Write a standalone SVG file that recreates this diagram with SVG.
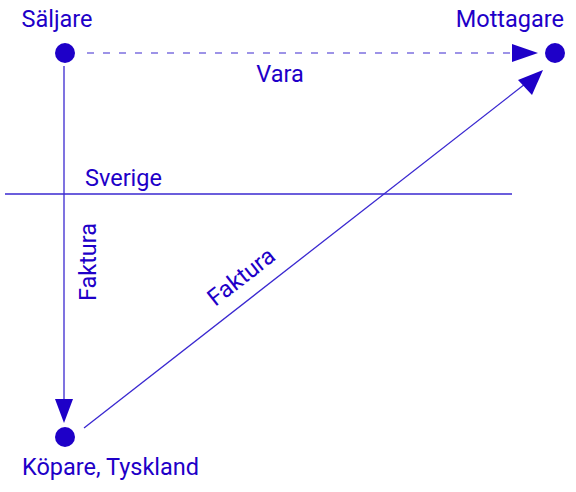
<svg xmlns="http://www.w3.org/2000/svg" width="576" height="492" viewBox="0 0 576 492">
<style>
text{font-family:Roboto,"Liberation Sans",sans-serif;font-size:23.5px;fill:#1e00c8}
.dot{fill:#1e00c8}
.ln{stroke:#3a28d0;stroke-width:1.3;fill:none}
.ah{fill:#1e00c8}
</style>
<rect width="576" height="492" fill="#fff"/>
<g id="connectors">
<line x1="87" y1="53" x2="515" y2="53" stroke="#7d70e0" stroke-width="1.6" stroke-dasharray="7,9"/>
<polygon class="ah" points="538,53 512,44 512,62"/>
<line class="ln" x1="64" y1="66" x2="64" y2="402"/>
<polygon class="ah" points="64,423 55,399 73,399"/>
<line class="ln" x1="84" y1="428" x2="525" y2="84"/>
<polygon class="ah" points="543,70 518,80 532,95"/>
<line class="ln" x1="5" y1="194" x2="512" y2="194" stroke-width="1.6"/>
<text x="280" y="82" text-anchor="middle">Vara</text>
<text x="85" y="186">Sverige</text>
<text transform="translate(96,262) rotate(-90)" text-anchor="middle">Faktura</text>
<text transform="translate(246,283) rotate(-38)" text-anchor="middle">Faktura</text>
</g>
<g id="saljare">
<circle class="dot" cx="65" cy="53" r="10"/>
<text x="57" y="27" text-anchor="middle">Säljare</text>
</g>
<g id="mottagare">
<circle class="dot" cx="555" cy="53" r="10"/>
<text x="564" y="27" text-anchor="end">Mottagare</text>
</g>
<g id="kopare">
<circle class="dot" cx="65" cy="437" r="10"/>
<text x="22" y="475">Köpare, Tyskland</text>
</g>
</svg>
